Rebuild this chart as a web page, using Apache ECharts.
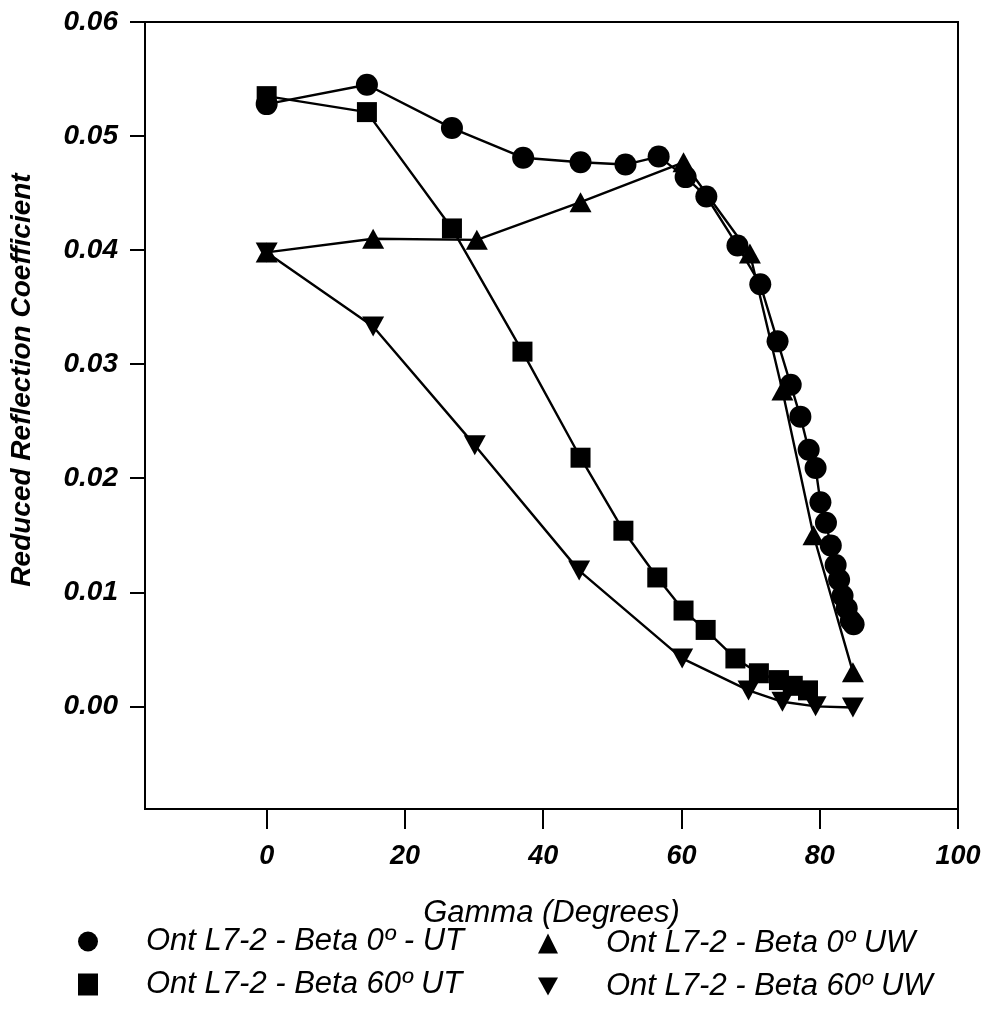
<!DOCTYPE html>
<html>
<head>
<meta charset="utf-8">
<script src="https://cdn.jsdelivr.net/npm/echarts@6/dist/echarts.min.js"></script>
<style>
  html, body { margin: 0; padding: 0; background: #fff; }
  #chart { width: 991px; height: 1012px; }
</style>
</head>
<body>
<div id="chart"></div>
<script>
// ---- data ----
const xTicks = [0, 20, 40, 60, 80, 100];
const yTicks = [0.00, 0.01, 0.02, 0.03, 0.04, 0.05, 0.06];

const gammaB0UT = [0, 14.5, 26.8, 37.1, 45.4, 51.9, 56.7, 60.6, 63.6, 68.1, 71.4, 73.9, 75.8, 77.2, 78.4, 79.4, 80.1, 80.9, 81.6, 82.3, 82.8, 83.3, 83.9, 84.5, 84.9];
const valB0UT   = [0.0528, 0.0545, 0.0507, 0.0481, 0.0477, 0.0475, 0.0482, 0.0464, 0.0447, 0.0404, 0.0370, 0.0320, 0.0282, 0.0254, 0.0225, 0.0209, 0.0179, 0.0161, 0.0141, 0.0124, 0.0111, 0.0097, 0.0086, 0.0075, 0.0072];

const gammaB60UT = [0, 14.5, 26.8, 37.0, 45.4, 51.6, 56.5, 60.3, 63.5, 67.8, 71.2, 74.1, 76.1, 78.3];
const valB60UT   = [0.0535, 0.0521, 0.0419, 0.0311, 0.0218, 0.0154, 0.0113, 0.0084, 0.0067, 0.0042, 0.0029, 0.0023, 0.0018, 0.0014];

const gammaB0UW = [0, 15.4, 30.4, 45.4, 60.3, 69.9, 74.6, 79.1, 84.8];
const valB0UW   = [0.0398, 0.0410, 0.0409, 0.0442, 0.0477, 0.0397, 0.0277, 0.0150, 0.0030];

const gammaB60UW = [0, 15.4, 30.1, 45.2, 60.1, 69.7, 74.6, 79.4, 84.8];
const valB60UW   = [0.0398, 0.0333, 0.0229, 0.0119, 0.0042, 0.0014, 0.0004, 0.0000, -0.0001];

const names = [
  'Ont L7-2 - Beta 0º - UT',
  'Ont L7-2 - Beta 0º UW',
  'Ont L7-2 - Beta 60º UT',
  'Ont L7-2 - Beta 60º UW'
];

// ---- chart ----
const FONT = "'Liberation Sans', Arial, Helvetica, sans-serif";
const pairs = (xs, ys) => xs.map((x, i) => [x, ys[i]]);
const downTri = 'path://M0,0 L22,0 L11,20 Z';

const chart = echarts.init(document.getElementById('chart'), null, { renderer: 'canvas' });

function mkSeries(name, xs, ys, symbol, size) {
  return {
    name: name,
    type: 'line',
    data: pairs(xs, ys),
    symbol: symbol,
    symbolSize: size,
    showAllSymbol: true,
    lineStyle: { color: '#000', width: 2.4 },
    itemStyle: { color: '#000', borderWidth: 0 },
    emphasis: { disabled: true },
    animation: false,
    z: 3
  };
}

function mkLegend(name, icon, w, h, left, top) {
  return {
    data: [{ name: name, icon: icon }],
    left: left,
    top: top,
    padding: 0,
    itemWidth: w,
    itemHeight: h,
    itemGap: 0,
    selectedMode: false,
    textStyle: {
      fontFamily: FONT, fontStyle: 'italic', fontSize: 31, color: '#000',
      padding: [0, 0, 0, 63 - w]
    }
  };
}

const option = {
  backgroundColor: '#fff',
  animation: false,
  grid: {
    left: 145, right: 33, top: 22, bottom: 203,
    show: true, borderColor: '#000', borderWidth: 2, backgroundColor: 'transparent'
  },
  xAxis: {
    type: 'value',
    min: -17.6, max: 100,
    name: 'Gamma (Degrees)',
    nameLocation: 'middle',
    nameGap: 89,
    nameTextStyle: { fontFamily: FONT, fontStyle: 'italic', fontSize: 31, color: '#000' },
    axisLine: { show: true, onZero: false, lineStyle: { color: '#000', width: 2 } },
    axisTick: { show: true, inside: false, length: 20, customValues: xTicks, lineStyle: { color: '#000', width: 2 } },
    axisLabel: {
      show: true, customValues: xTicks, margin: 34,
      fontFamily: FONT, fontStyle: 'italic', fontWeight: 'bold', fontSize: 27, color: '#000'
    },
    splitLine: { show: false }
  },
  yAxis: {
    type: 'value',
    min: -0.009, max: 0.06,
    axisLine: { show: true, onZero: false, lineStyle: { color: '#000', width: 2 } },
    axisTick: { show: true, inside: false, length: 15, customValues: yTicks, lineStyle: { color: '#000', width: 2 } },
    axisLabel: {
      show: true, customValues: yTicks, margin: 27,
      formatter: v => v.toFixed(2),
      fontFamily: FONT, fontStyle: 'italic', fontWeight: 'bold', fontSize: 28, color: '#000'
    },
    splitLine: { show: false }
  },
  legend: [
    mkLegend(names[0], 'circle', 20, 24, 78, 926),
    mkLegend(names[1], 'triangle', 20, 20, 538, 928),
    mkLegend(names[2], 'rect', 20, 22, 78, 969),
    mkLegend(names[3], downTri, 20, 20, 538, 971)
  ],
  graphic: [{
    type: 'text',
    x: 22, y: 380,
    rotation: Math.PI / 2,
    style: {
      text: 'Reduced Reflection Coefficient',
      fontFamily: FONT, fontStyle: 'italic', fontWeight: 'bold', fontSize: 28,
      fill: '#000', align: 'center', verticalAlign: 'middle'
    }
  }],
  series: [
    mkSeries(names[0], gammaB0UT, valB0UT, 'circle', 22),
    mkSeries(names[1], gammaB0UW, valB0UW, 'triangle', [22, 20]),
    mkSeries(names[2], gammaB60UT, valB60UT, 'rect', 20),
    mkSeries(names[3], gammaB60UW, valB60UW, downTri, [22, 20])
  ]
};

chart.setOption(option);
</script>
</body>
</html>
